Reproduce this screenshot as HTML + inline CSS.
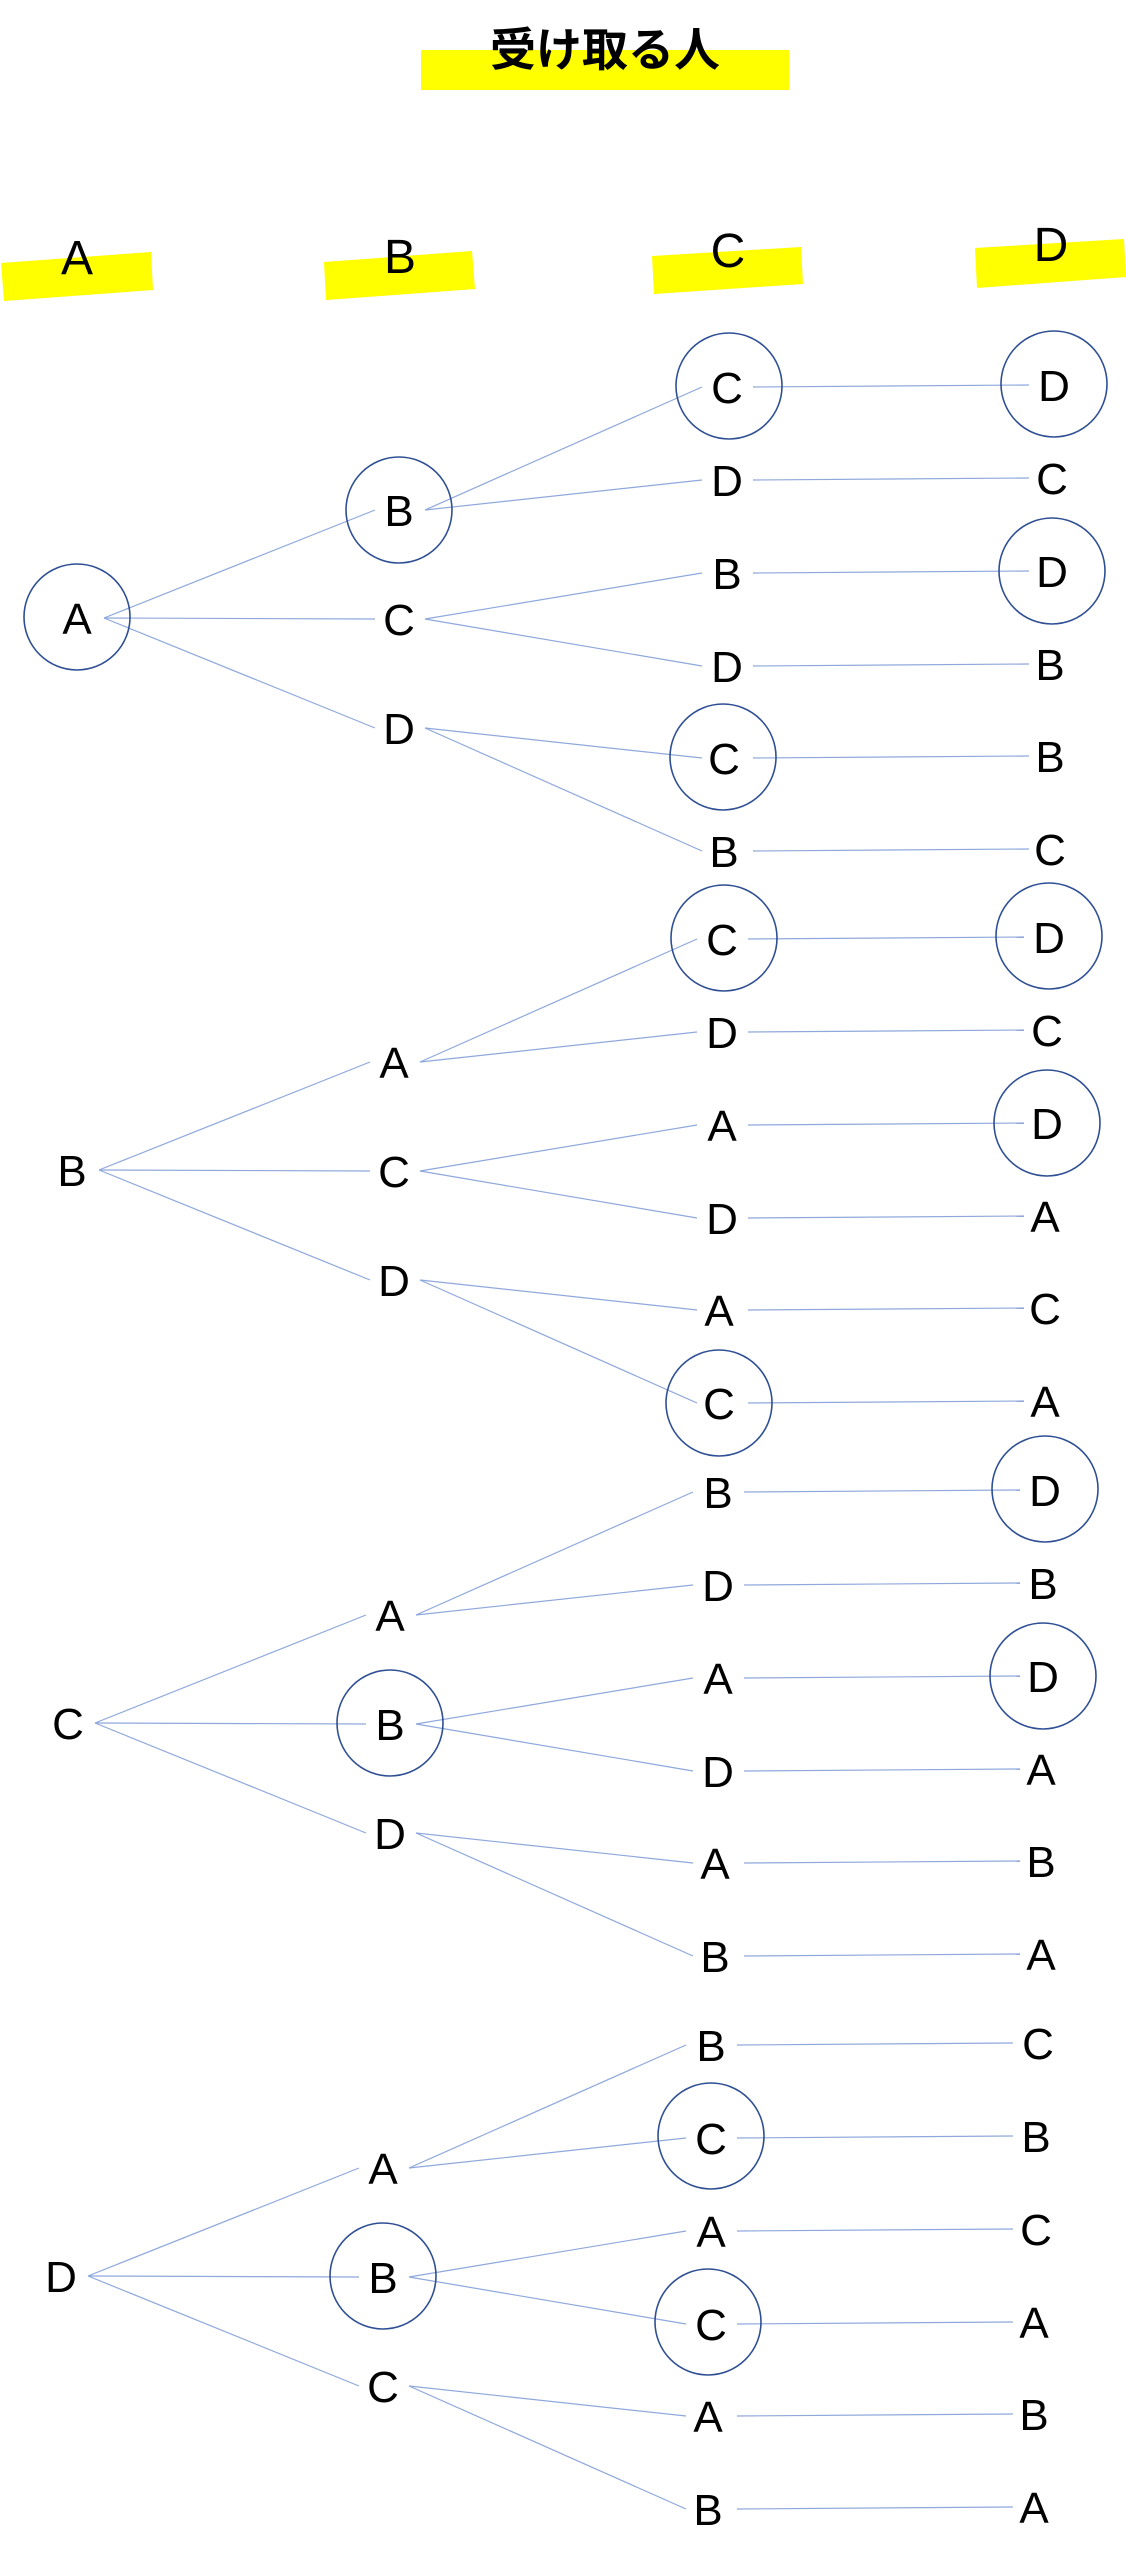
<!DOCTYPE html>
<html><head><meta charset="utf-8"><style>
html,body{margin:0;padding:0;background:#fff;}
svg{display:block;}
text{font-family:"Liberation Sans",Arial,sans-serif;fill:#000;}
</style></head><body>
<svg width="1126" height="2560" viewBox="0 0 1126 2560" xmlns="http://www.w3.org/2000/svg">
<rect x="421" y="50" width="368" height="40" fill="#ffff00"/>
<text x="605" y="66" text-anchor="middle" font-size="46" font-weight="bold" style='font-family:"Noto Sans CJK JP","Liberation Sans",sans-serif'>受け取る人</text>
<polygon points="1,263 151,252 153,290 4,301" fill="#ffff00"/>
<polygon points="324,262 472,251 475,289 326,300" fill="#ffff00"/>
<polygon points="652,256 801,247 803,284 654,294" fill="#ffff00"/>
<polygon points="975,248 1124,239 1126,277 977,288" fill="#ffff00"/>
<g font-size="48" text-anchor="middle">
<text x="77" y="274">A</text>
<text x="400" y="273">B</text>
<text x="728" y="267">C</text>
<text x="1051" y="261">D</text>
</g>
<defs>
<g id="lines" stroke="#8fa8dc" stroke-width="1.2" fill="none">
<line x1="104" y1="618" x2="375" y2="510"/>
<line x1="104" y1="618" x2="375" y2="619"/>
<line x1="104" y1="618" x2="375" y2="728"/>
<line x1="425" y1="510" x2="702" y2="387"/>
<line x1="425" y1="510" x2="702" y2="480"/>
<line x1="425" y1="619" x2="702" y2="573"/>
<line x1="425" y1="619" x2="702" y2="666"/>
<line x1="425" y1="728" x2="702" y2="758"/>
<line x1="425" y1="728" x2="702" y2="851"/>
<line x1="753" y1="387" x2="1029" y2="385"/>
<line x1="753" y1="480" x2="1029" y2="478"/>
<line x1="753" y1="573" x2="1029" y2="571"/>
<line x1="753" y1="666" x2="1029" y2="664"/>
<line x1="753" y1="758" x2="1029" y2="756"/>
<line x1="753" y1="851" x2="1029" y2="849"/>
</g>
</defs>
<g font-size="44" text-anchor="middle">
<g>
<use href="#lines"/>
<g stroke="#2f4f94" stroke-width="1.6" fill="none">
<ellipse cx="77" cy="617" rx="53" ry="53"/>
<ellipse cx="399" cy="510" rx="53" ry="53"/>
<ellipse cx="729" cy="386" rx="53" ry="53"/>
<ellipse cx="1054" cy="384" rx="53" ry="53"/>
<ellipse cx="1052" cy="571" rx="53" ry="53"/>
<ellipse cx="723" cy="757" rx="53" ry="53"/>
</g>
<text x="77" y="634">A</text>
<text x="399" y="526">B</text><text x="399" y="635">C</text><text x="399" y="744">D</text>
<text x="727" y="403">C</text><text x="727" y="496">D</text><text x="727" y="589">B</text><text x="727" y="682">D</text><text x="724" y="774">C</text><text x="724" y="867">B</text>
<text x="1054" y="401">D</text><text x="1052" y="494">C</text><text x="1052" y="587">D</text><text x="1050" y="680">B</text><text x="1050" y="772">B</text><text x="1050" y="865">C</text>
</g>
<g transform="translate(-5,552)">
<use href="#lines"/>
<g stroke="#2f4f94" stroke-width="1.6" fill="none">
<ellipse cx="729" cy="386" rx="53" ry="53"/>
<ellipse cx="1054" cy="384" rx="53" ry="53"/>
<ellipse cx="1052" cy="571" rx="53" ry="53"/>
<ellipse cx="724" cy="851" rx="53" ry="53"/>
</g>
<text x="77" y="634">B</text>
<text x="399" y="526">A</text><text x="399" y="635">C</text><text x="399" y="744">D</text>
<text x="727" y="403">C</text><text x="727" y="496">D</text><text x="727" y="589">A</text><text x="727" y="682">D</text><text x="724" y="774">A</text><text x="724" y="867">C</text>
<text x="1054" y="401">D</text><text x="1052" y="494">C</text><text x="1052" y="587">D</text><text x="1050" y="680">A</text><text x="1050" y="772">C</text><text x="1050" y="865">A</text>
</g>
<g transform="translate(-9,1105)">
<use href="#lines"/>
<g stroke="#2f4f94" stroke-width="1.6" fill="none">
<ellipse cx="399" cy="618" rx="53" ry="53"/>
<ellipse cx="1054" cy="384" rx="53" ry="53"/>
<ellipse cx="1052" cy="571" rx="53" ry="53"/>
</g>
<text x="77" y="634">C</text>
<text x="399" y="526">A</text><text x="399" y="635">B</text><text x="399" y="744">D</text>
<text x="727" y="403">B</text><text x="727" y="496">D</text><text x="727" y="589">A</text><text x="727" y="682">D</text><text x="724" y="774">A</text><text x="724" y="867">B</text>
<text x="1054" y="401">D</text><text x="1052" y="494">B</text><text x="1052" y="587">D</text><text x="1050" y="680">A</text><text x="1050" y="772">B</text><text x="1050" y="865">A</text>
</g>
<g transform="translate(-16,1658)">
<use href="#lines"/>
<g stroke="#2f4f94" stroke-width="1.6" fill="none">
<ellipse cx="399" cy="618" rx="53" ry="53"/>
<ellipse cx="727" cy="478" rx="53" ry="53"/>
<ellipse cx="724" cy="664" rx="53" ry="53"/>
</g>
<text x="77" y="634">D</text>
<text x="399" y="526">A</text><text x="399" y="635">B</text><text x="399" y="744">C</text>
<text x="727" y="403">B</text><text x="727" y="496">C</text><text x="727" y="589">A</text><text x="727" y="682">C</text><text x="724" y="774">A</text><text x="724" y="867">B</text>
<text x="1054" y="401">C</text><text x="1052" y="494">B</text><text x="1052" y="587">C</text><text x="1050" y="680">A</text><text x="1050" y="772">B</text><text x="1050" y="865">A</text>
</g>
</g>
</svg>
</body></html>
